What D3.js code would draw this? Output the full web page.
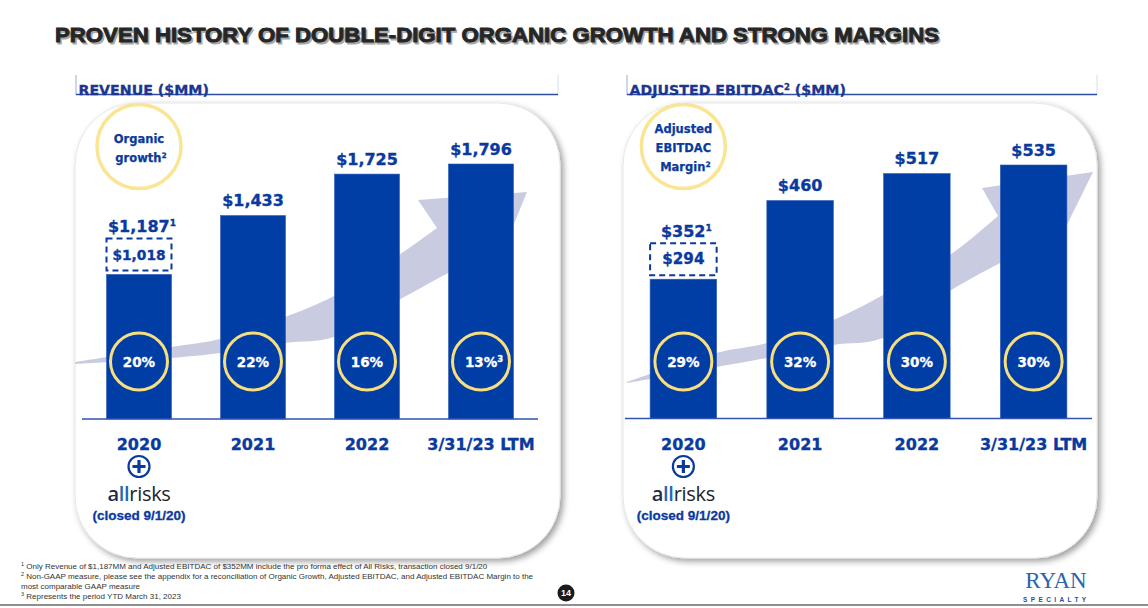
<!DOCTYPE html>
<html><head><meta charset="utf-8">
<script src="https://cdn.jsdelivr.net/npm/d3@7/dist/d3.min.js"></script>
<style>body{margin:0;background:#fff}svg{display:block}</style>
</head><body><svg id="c" width="1148" height="608"></svg>
<script>
// ---------- data ----------
const categories = ["2020", "2021", "2022", "3/31/23 LTM"];
const revenue = [1018, 1433, 1725, 1796];
const revenue2020ProForma = 1187;
const organicGrowth = [20, 22, 16, 13];
const organicGrowthNotes = ["", "", "", "3"];
const ebitdac = [294, 460, 517, 535];
const ebitdac2020ProForma = 352;
const ebitdacMargin = [29, 32, 30, 30];
const ebitdacMarginNotes = ["", "", "", ""];
const title = "PROVEN HISTORY OF DOUBLE-DIGIT ORGANIC GROWTH AND STRONG MARGINS";
const footnotes = [
  ["1", " Only Revenue of $1,187MM and Adjusted EBITDAC of $352MM include the pro forma effect of All Risks, transaction closed 9/1/20"],
  ["2", " Non-GAAP measure, please see the appendix for a reconciliation of Organic Growth, Adjusted EBITDAC, and Adjusted EBITDAC Margin to the"],
  ["", "most comparable GAAP measure"],
  ["3", " Represents the period YTD March 31, 2023"]
];

// ---------- styles ----------
const BLUE = "#003DA5", TXT = "#0A3A9E", HDR = "#1B3591";
const YEL = "#F7DE7E", YEL2 = "#FAE594", ARROW = "#C9CCE0";
const HEAVY = "'DejaVu Sans', sans-serif", ARIAL = "'Liberation Sans', Arial, sans-serif";
const fmt = d3.format("$,");

const svg = d3.select("#c");
const defs = svg.append("defs");
const flt = defs.append("filter").attr("id", "sh")
  .attr("x", "-10%").attr("y", "-10%").attr("width", "125%").attr("height", "125%");
flt.append("feDropShadow").attr("dx", 3).attr("dy", 3).attr("stdDeviation", 3)
  .attr("flood-color", "#000").attr("flood-opacity", 0.38);

// ---------- title ----------
[["#a8a8a8", 1.6], ["#262626", 0]].forEach(([c, o]) => {
  svg.append("text").attr("x", 55 + o).attr("y", 42 + o)
    .attr("font-family", ARIAL).attr("font-weight", "bold").attr("font-size", 20)
    .attr("fill", c).attr("stroke", c).attr("stroke-width", 0.9)
    .attr("textLength", 884).attr("lengthAdjust", "spacingAndGlyphs")
    .text(title);
});

// ---------- panels ----------
const panels = [
  {
    box: {x: 75, y: 103, w: 485, h: 455},
    hdr: {x: 76, x2: 558, parts: [["REVENUE ($MM)", false]]},
    xr: [82, 538], yr: [419, 164],
    values: revenue, proForma: revenue2020ProForma,
    pct: organicGrowth, pctNotes: organicGrowthNotes,
    circ: [["Organic", ""], ["growth", "2"]], circY0: 143,
    boxFont: 13.8,
    arrowUpper: [[0,259],[96,244],[145,236],[210,214],[259,193],[324,152],[362,125]],
    arrowHead: [[343,97],[452,89],[425,155],[398,152]],
    arrowLower: [[373,170],[324,197],[259,234],[210,240],[145,250],[96,255],[0,261]]
  },
  {
    box: {x: 623, y: 103, w: 474, h: 455},
    hdr: {x: 627, x2: 1097, parts: [["ADJUSTED EBITDAC", false], ["2", true], [" ($MM)", false]]},
    xr: [625, 1092], yr: [418.5, 165],
    values: ebitdac, proForma: ebitdac2020ProForma,
    pct: ebitdacMargin, pctNotes: ebitdacMarginNotes,
    circ: [["Adjusted", ""], ["EBITDAC", ""], ["Margin", "2"]], circY0: 133,
    boxFont: 15.2,
    arrowUpper: [[4,279],[93,250],[144,240],[210,217],[260,192],[327,152],[375,113]],
    arrowHead: [[359,85],[470,69],[430,150],[405,147]],
    arrowLower: [[377,160],[327,188],[260,235],[210,242],[144,255],[93,264],[4,280]]
  }
];

panels.forEach(p => {
  // header
  const h = svg.append("g");
  h.append("line").attr("x1", p.hdr.x).attr("x2", p.hdr.x).attr("y1", 75).attr("y2", 95)
    .attr("stroke", "#A9BADF").attr("stroke-width", 1.2);
  h.append("line").attr("x1", p.hdr.x2).attr("x2", p.hdr.x2).attr("y1", 75).attr("y2", 95)
    .attr("stroke", "#D5DDF0").attr("stroke-width", 1);
  h.append("line").attr("x1", p.hdr.x).attr("x2", p.hdr.x2).attr("y1", 94.5).attr("y2", 94.5)
    .attr("stroke", "#2D4FA3").attr("stroke-width", 1.6);
  const ht = h.append("text").attr("x", p.hdr.x + 2.5).attr("y", 89.5)
    .attr("font-family", HEAVY).attr("font-weight", "bold").attr("font-size", 14.2).attr("fill", HDR)
    .attr("stroke", HDR).attr("stroke-width", 0.3);
  p.hdr.parts.forEach(([t, sup]) => {
    if (sup) ht.append("tspan").attr("font-size", 8.5).attr("dy", -5).text(t);
    else ht.append("tspan").attr("dy", ht.selectAll("tspan").size() ? 5 : 0).text(t);
  });

  // rounded panel
  svg.append("rect").attr("x", p.box.x).attr("y", p.box.y).attr("width", p.box.w).attr("height", p.box.h)
    .attr("rx", 62).attr("fill", "#fff").attr("stroke", "#e6e6e6").attr("stroke-width", 1)
    .attr("filter", "url(#sh)");

  const g = svg.append("g");
  const x = d3.scaleBand().domain(categories).range(p.xr).paddingInner(0.43).paddingOuter(0.215);
  const y = d3.scaleLinear().domain([0, d3.max(p.values)]).range(p.yr);
  const cx = c => x(c) + x.bandwidth() / 2;

  // arrow swoosh
  const ag = g.append("g").attr("transform", `translate(${p.box.x},${p.box.y})`);
  const lc = d3.line().curve(d3.curveCatmullRom.alpha(0.5));
  const up = lc(p.arrowUpper);
  const head = p.arrowHead.map(pt => "L" + pt[0] + "," + pt[1]).join("");
  const low = lc(p.arrowLower).replace(/^M/, "L");
  ag.append("path").attr("d", up + head + low + "Z").attr("fill", ARROW);

  // bars
  g.selectAll("rect.bar").data(p.values).join("rect").attr("class", "bar")
    .attr("x", (d, i) => x(categories[i])).attr("width", x.bandwidth())
    .attr("y", d => y(d)).attr("height", d => y(0) - y(d))
    .attr("fill", BLUE).attr("stroke", "#2f5cb8").attr("stroke-width", 0.6);

  // baseline
  g.append("line").attr("x1", p.xr[0]).attr("x2", p.xr[1]).attr("y1", y(0)).attr("y2", y(0))
    .attr("stroke", "#2F55B0").attr("stroke-width", 1.6);

  const heavyText = sel => sel.attr("font-family", HEAVY).attr("font-weight", "bold")
    .attr("fill", TXT).attr("stroke", TXT).attr("stroke-width", 0.35);

  // value labels (2021+)
  g.selectAll("text.val").data(p.values.slice(1)).join("text").attr("class", "val")
    .attr("x", (d, i) => cx(categories[i + 1])).attr("y", d => y(d) - 9.5)
    .attr("text-anchor", "middle").attr("font-size", 16).call(heavyText).text(d => fmt(d));

  // 2020: dashed box + pro forma label
  const c0 = categories[0], top0 = y(p.values[0]);
  const bTop = top0 - 36, bBot = top0 - 4;
  g.append("rect").attr("x", x(c0)).attr("width", x.bandwidth())
    .attr("y", bTop).attr("height", bBot - bTop)
    .attr("fill", "none").attr("stroke", TXT).attr("stroke-width", 2).attr("stroke-dasharray", "6,4");
  g.append("text").attr("x", cx(c0)).attr("y", (bTop + bBot) / 2 + 5.3)
    .attr("text-anchor", "middle").attr("font-size", p.boxFont).call(heavyText).text(fmt(p.values[0]));
  const pf = g.append("text").attr("x", cx(c0) + 3).attr("y", bTop - 6)
    .attr("text-anchor", "middle").attr("font-size", 16).call(heavyText);
  pf.append("tspan").text(fmt(p.proForma));
  pf.append("tspan").attr("font-size", 9).attr("dy", -6).text("1");

  // percentage circles
  const pcY = 361.5;
  g.selectAll("circle.pc").data(p.pct).join("circle").attr("class", "pc")
    .attr("cx", (d, i) => cx(categories[i])).attr("cy", pcY).attr("r", 28.5)
    .attr("fill", "none").attr("stroke", YEL).attr("stroke-width", 3);
  const pt = g.selectAll("text.pc").data(p.pct).join("text").attr("class", "pc")
    .attr("x", (d, i) => cx(categories[i]) + (p.pctNotes[i] ? 3 : 0)).attr("y", pcY + 5)
    .attr("text-anchor", "middle").attr("font-family", HEAVY).attr("font-weight", "bold")
    .attr("font-size", 13.5).attr("fill", "#fff").attr("stroke", "#fff").attr("stroke-width", 0.3);
  pt.append("tspan").text(d => d + "%");
  pt.append("tspan").attr("font-size", 8.5).attr("dy", -5).text((d, i) => p.pctNotes[i]);

  // header circle
  g.append("circle").attr("cx", cx(c0)).attr("cy", 146.5).attr("r", 42)
    .attr("fill", "#fff").attr("stroke", YEL2).attr("stroke-width", 3.5);
  p.circ.forEach(([t, s], i) => {
    const tt = g.append("text").attr("x", cx(c0) + (s ? 2 : 0)).attr("y", p.circY0 + i * 19)
      .attr("text-anchor", "middle").attr("font-size", 11.5).call(heavyText).attr("stroke-width", 0.25);
    tt.append("tspan").text(t);
    if (s) tt.append("tspan").attr("font-size", 7.5).attr("dy", -4).text(s);
  });

  // category labels
  g.selectAll("text.cat").data(categories).join("text").attr("class", "cat")
    .attr("x", d => cx(d)).attr("y", 450)
    .attr("text-anchor", "middle").attr("font-size", 16).call(heavyText).text(d => d);

  // plus icon + allrisks
  const pc = cx(c0), py = 466.5;
  g.append("circle").attr("cx", pc).attr("cy", py).attr("r", 10.5)
    .attr("fill", "#fff").attr("stroke", TXT).attr("stroke-width", 2.2);
  g.append("path").attr("d", `M${pc - 6.5},${py}H${pc + 6.5}M${pc},${py - 6.5}V${py + 6.5}`)
    .attr("stroke", TXT).attr("stroke-width", 3.2);
  const ar = g.append("text").attr("x", pc).attr("y", 501).attr("text-anchor", "middle")
    .attr("font-family", "'Open Sans', sans-serif").attr("font-size", 20).attr("letter-spacing", -0.3);
  ar.append("tspan").attr("fill", "#1C2B4F").attr("font-weight", 600).text("a");
  ar.append("tspan").attr("fill", "#2267B5").attr("font-weight", 600).text("ll");
  ar.append("tspan").attr("fill", "#232323").text("risks");
  g.append("text").attr("x", pc).attr("y", 520).attr("text-anchor", "middle")
    .attr("font-family", ARIAL).attr("font-weight", "bold").attr("font-size", 13.5)
    .attr("fill", TXT).attr("stroke", TXT).attr("stroke-width", 0.3).text("(closed 9/1/20)");
});

// ---------- footnotes ----------
footnotes.forEach(([s, t], i) => {
  const ft = svg.append("text").attr("x", 21).attr("y", 569 + i * 10)
    .attr("font-family", ARIAL).attr("font-size", 8).attr("fill", "#333");
  if (s) ft.append("tspan").attr("font-size", 5.5).attr("dy", -3).text(s);
  ft.append("tspan").attr("dy", s ? 3 : 0).text(t);
});

// page number
svg.append("circle").attr("cx", 566).attr("cy", 593).attr("r", 8.5).attr("fill", "#1a1a1a");
svg.append("text").attr("x", 566).attr("y", 596.3).attr("text-anchor", "middle")
  .attr("font-family", ARIAL).attr("font-weight", "bold").attr("font-size", 9).attr("fill", "#fff").text("14");

// logo
svg.append("text").attr("x", 1056).attr("y", 588).attr("text-anchor", "middle")
  .attr("font-family", "'Liberation Serif', serif").attr("font-size", 23).attr("fill", "#2B64B0").text("RYAN");
svg.append("text").attr("x", 1023).attr("y", 601.5)
  .attr("font-family", ARIAL).attr("font-weight", "bold").attr("font-size", 6.5)
  .attr("letter-spacing", 3.4).attr("fill", "#1F4E9E").text("SPECIALTY");

// bottom rule
svg.append("line").attr("x1", 0).attr("x2", 1148).attr("y1", 605).attr("y2", 605)
  .attr("stroke", "#8f8f8f").attr("stroke-width", 2);
</script></body></html>
